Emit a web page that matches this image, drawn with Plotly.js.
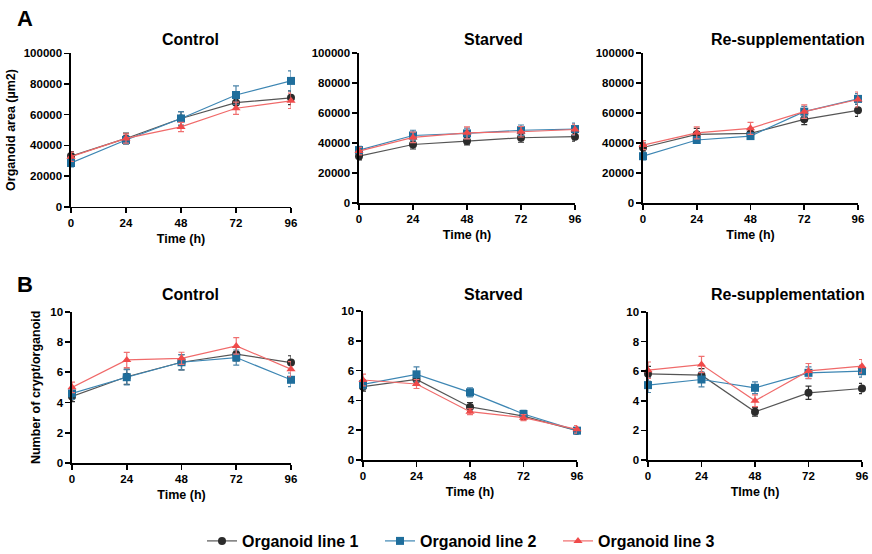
<!DOCTYPE html>
<html><head><meta charset="utf-8">
<script src="https://cdn.plot.ly/plotly-3.0.1.min.js"></script>
<style>html,body{margin:0;padding:0;background:#fff}#c{width:872px;height:554px}</style>
</head><body><div id="c"></div>
<script>
const times = [0, 24, 48, 72, 96];
const seriesNames = ["Organoid line 1", "Organoid line 2", "Organoid line 3"];
const panelTitles = ["Control", "Starved", "Re-supplementation"];
const xTitlesA = ["Time (h)", "Time (h)", "Time (h)"];
const xTitlesB = ["Time (h)", "Time (h)", "TIme (h)"];
const yTitleA = "Organoid area (µm2)";
const yTitleB = "Number of crypt/organoid";

// Row A: organoid area (µm2)
const areaControl1 = [33000, 44500, 57500, 67800, 71000];
const areaControl2 = [28500, 43500, 57500, 72800, 82000];
const areaControl3 = [32600, 44500, 52000, 64200, 69000];
const areaControlErr1 = [3000, 3500, 4500, 4000, 4500];
const areaControlErr2 = [2500, 2500, 4500, 6000, 6500];
const areaControlErr3 = [3000, 3000, 3000, 4000, 5000];

const areaStarved1 = [31200, 39000, 41300, 43500, 44200];
const areaStarved2 = [35300, 45000, 46400, 48500, 49300];
const areaStarved3 = [34600, 43700, 46800, 47500, 49000];
const areaStarvedErr1 = [2500, 3000, 2500, 3000, 3000];
const areaStarvedErr2 = [2500, 3500, 3500, 3500, 4000];
const areaStarvedErr3 = [2500, 3500, 4000, 3500, 3500];

const areaResup1 = [37000, 45800, 46400, 55800, 61800];
const areaResup2 = [31200, 42000, 44600, 60900, 69400];
const areaResup3 = [38600, 46800, 49800, 60900, 69000];
const areaResupErr1 = [3000, 4000, 3500, 3500, 4000];
const areaResupErr2 = [2500, 2000, 2000, 3500, 3500];
const areaResupErr3 = [3000, 4000, 4000, 4500, 5000];

// Row B: number of crypt / organoid
const cryptControl1 = [4.4, 5.7, 6.66, 7.19, 6.64];
const cryptControl2 = [4.6, 5.67, 6.66, 6.97, 5.5];
const cryptControl3 = [5.0, 6.81, 6.92, 7.74, 6.2];
const cryptControlErr1 = [0.35, 0.5, 0.5, 0.45, 0.45];
const cryptControlErr2 = [0.4, 0.5, 0.5, 0.5, 0.45];
const cryptControlErr3 = [0.35, 0.5, 0.4, 0.55, 0.5];

const cryptStarved1 = [4.92, 5.41, 3.56, 2.95, 1.97];
const cryptStarved2 = [5.08, 5.75, 4.54, 3.09, 1.97];
const cryptStarved3 = [5.37, 5.1, 3.24, 2.84, 2.06];
const cryptStarvedErr1 = [0.3, 0.35, 0.3, 0.25, 0.2];
const cryptStarvedErr2 = [0.3, 0.5, 0.3, 0.25, 0.2];
const cryptStarvedErr3 = [0.4, 0.3, 0.2, 0.2, 0.25];

const cryptResup1 = [5.82, 5.73, 3.26, 4.54, 4.83];
const cryptResup2 = [5.06, 5.44, 4.88, 5.89, 6.0];
const cryptResup3 = [6.07, 6.45, 4.0, 6.02, 6.34];
const cryptResupErr1 = [0.5, 0.45, 0.3, 0.45, 0.35];
const cryptResupErr2 = [0.5, 0.5, 0.4, 0.4, 0.4];
const cryptResupErr3 = [0.55, 0.55, 0.4, 0.5, 0.45];

const colors = ["#2b2b2b", "#1f6e9c", "#f04a4a"];
const lineColors = ["#555555", "#3d86b3", "#f06a6a"];
const errColors = ["#333333", "#4a83a8", "#f07070"];
const symbols = ["circle", "square", "triangle-up"];
const markerSizes = [8, 8, 8];

const panels = [
  {vals: [areaControl1, areaControl2, areaControl3], errs: [areaControlErr1, areaControlErr2, areaControlErr3]},
  {vals: [areaStarved1, areaStarved2, areaStarved3], errs: [areaStarvedErr1, areaStarvedErr2, areaStarvedErr3]},
  {vals: [areaResup1, areaResup2, areaResup3], errs: [areaResupErr1, areaResupErr2, areaResupErr3]},
  {vals: [cryptControl1, cryptControl2, cryptControl3], errs: [cryptControlErr1, cryptControlErr2, cryptControlErr3]},
  {vals: [cryptStarved1, cryptStarved2, cryptStarved3], errs: [cryptStarvedErr1, cryptStarvedErr2, cryptStarvedErr3]},
  {vals: [cryptResup1, cryptResup2, cryptResup3], errs: [cryptResupErr1, cryptResupErr2, cryptResupErr3]}
];

const W = 872, H = 554;
// pixel boxes [x0, x1, ytop, ybottom]
const boxes = [
  [71, 291, 53.3, 206.7],
  [359, 575, 53, 203],
  [643, 858, 53, 203],
  [72, 291, 311.7, 463],
  [363, 577, 311, 460],
  [648, 862, 312, 460]
];

const FONT = "Liberation Sans, Arial, Helvetica, sans-serif";
const traces = [];
const layout = {
  width: W, height: H,
  margin: {l: 0, r: 0, t: 0, b: 0, autoexpand: false},
  paper_bgcolor: "#ffffff", plot_bgcolor: "#ffffff",
  font: {family: FONT, color: "#000", size: 11},
  showlegend: true,
  legend: {orientation: "h", x: 0.5 + 33 / W, xanchor: "center", y: 1 - 541 / H, yanchor: "middle",
    font: {family: FONT, size: 16, weight: "bold", color: "#000"}, itemwidth: 30, entrywidth: 133, traceorder: "normal"},
  annotations: [
    {text: "<b>A</b>", x: 25 / W, y: 1 - 18 / H, xref: "paper", yref: "paper", showarrow: false, font: {size: 22, family: FONT}, xanchor: "center", yanchor: "middle"},
    {text: "<b>B</b>", x: 25 / W, y: 1 - 284 / H, xref: "paper", yref: "paper", showarrow: false, font: {size: 22, family: FONT}, xanchor: "center", yanchor: "middle"}
  ]
};

const titleCenters = [[190, 39], [493, 39], [788, 39], [190, 294], [493, 294], [788, 294]];

panels.forEach((p, i) => {
  const idx = i + 1;
  const xa = idx === 1 ? "x" : "x" + idx;
  const ya = idx === 1 ? "y" : "y" + idx;
  const b = boxes[i];
  const isA = i < 3;
  for (let s = 0; s < 3; s++) {
    traces.push({
      type: "scatter", mode: "lines+markers",
      x: times, y: p.vals[s], name: seriesNames[s],
      xaxis: xa, yaxis: ya, cliponaxis: false,
      showlegend: i === 0, legendgroup: "g" + s,
      line: {color: lineColors[s], width: 1.2},
      marker: {color: colors[s], symbol: symbols[s], size: markerSizes[s]},
      error_y: {type: "data", array: p.errs[s], visible: true, color: errColors[s], thickness: 1.2, width: 3}
    });
  }
  const axX = {
    domain: [b[0] / W, b[1] / W], range: [0, 96], anchor: ya,
    tickvals: times, ticktext: times.map(String),
    showline: true, linecolor: "#000", linewidth: 1.6, mirror: false,
    ticks: "outside", ticklen: 5, tickwidth: 1.6, tickcolor: "#000",
    showgrid: false, zeroline: false,
    tickfont: {size: 11.5, weight: "bold", family: FONT},
    title: {text: "<b>" + (isA ? xTitlesA[i] : xTitlesB[i - 3]) + "</b>", font: {size: 12.5, family: FONT}, standoff: 6}
  };
  const axY = {
    domain: [1 - b[3] / H, 1 - b[2] / H], anchor: xa,
    range: isA ? [0, 100000] : [0, 10],
    dtick: isA ? 20000 : 2, tickformat: "d",
    showline: true, linecolor: "#000", linewidth: 1.6,
    ticks: "outside", ticklen: 5, tickwidth: 1.6, tickcolor: "#000",
    showgrid: false, zeroline: false,
    tickfont: {size: 11.5, weight: "bold", family: FONT}
  };
  if (i === 0) axY.title = {text: "<b>" + yTitleA + "</b>", font: {size: 12.5, family: FONT}, standoff: 5};
  if (i === 3) axY.title = {text: "<b>" + yTitleB + "</b>", font: {size: 12.5, family: FONT}, standoff: 7};
  layout["xaxis" + (idx === 1 ? "" : idx)] = axX;
  layout["yaxis" + (idx === 1 ? "" : idx)] = axY;
  layout.annotations.push({
    text: "<b>" + panelTitles[i % 3] + "</b>", xref: "paper", yref: "paper",
    x: titleCenters[i][0] / W, y: 1 - titleCenters[i][1] / H, showarrow: false,
    xanchor: "center", yanchor: "middle", font: {size: 16, family: FONT}
  });
});

Plotly.newPlot("c", traces, layout, {staticPlot: true, displayModeBar: false});
</script>
</body></html>
